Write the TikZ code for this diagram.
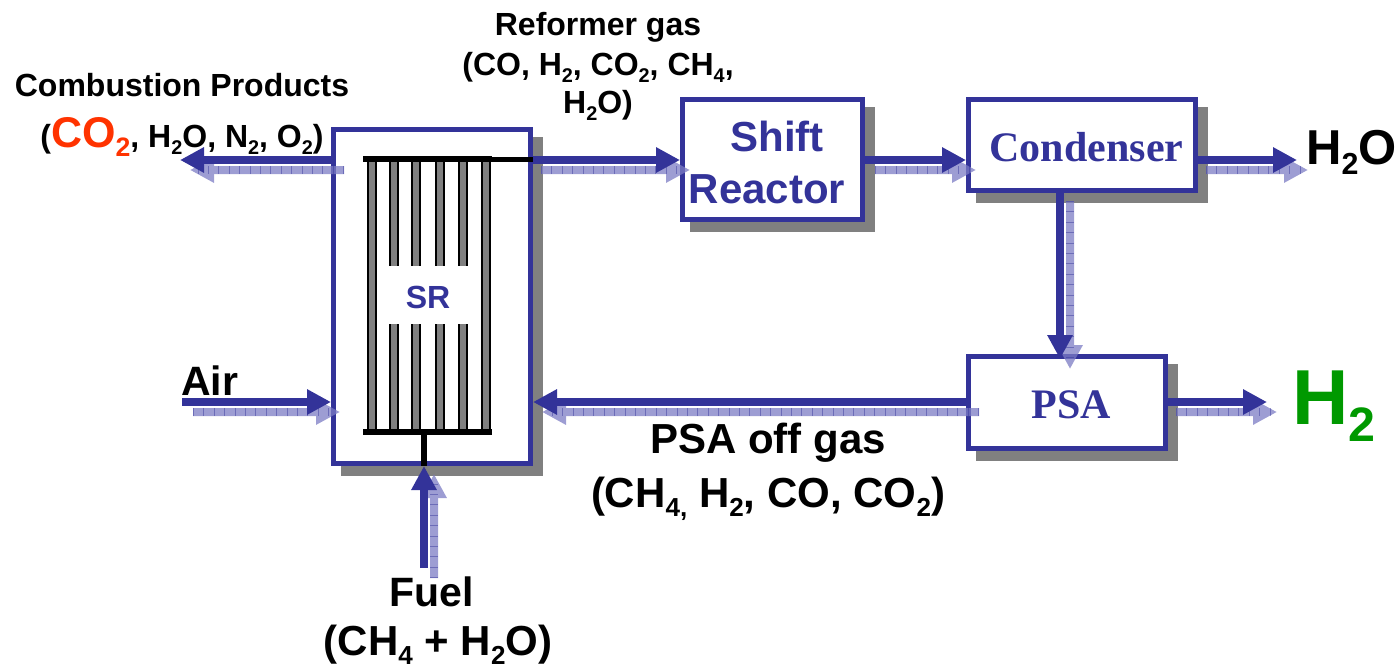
\documentclass[tikz,border=0pt]{standalone}
\usepackage{fontspec}
\setmainfont{Liberation Sans}[BoldFont={Liberation Sans Bold}]
\newfontfamily\serifbold{Liberation Serif Bold}
\usetikzlibrary{arrows.meta,shadows}
\definecolor{flowblue}{HTML}{333399}
\definecolor{ghostblue}{HTML}{7C7CC4}
\definecolor{shadowgray}{HTML}{808080}
\definecolor{hgreen}{HTML}{009900}
\definecolor{cored}{HTML}{FF3300}
\newcommand{\fs}[1]{\fontsize{#1}{#1}\selectfont}
\newcommand{\sbs}[1]{\raisebox{-0.22em}{\scalebox{0.62}{#1}}}
\tikzset{
  box/.style={draw=flowblue,fill=white,line width=5pt,inner sep=0pt,text=flowblue,align=center,
    copy shadow={shadow xshift=10pt,shadow yshift=-10pt,draw=shadowgray,fill=shadowgray}},
  flow/.style={draw=flowblue,line width=7.6pt,-{Triangle[length=24pt,width=24pt,fill=flowblue]}},
  ghost/.style={draw=ghostblue,line width=8pt,-{Triangle[length=24pt,width=24pt,fill=ghostblue]}},
  ghosttick/.style={draw=flowblue,line width=8pt,dash pattern=on 0.8pt off 9.6pt,opacity=.45,shorten >=7pt},
  tube/.style={draw=black,fill=shadowgray,line width=1.6pt},
  bar/.style={draw=black,line width=6pt},
  label/.style={inner sep=0pt,text=black,anchor=base},
}
\begin{document}
\begin{tikzpicture}[x=1pt,y=-1pt]
\useasboundingbox (0,0) rectangle (1400,667);
% boxes
\node[box,minimum width=197pt,minimum height=334pt] (sr) at (432,296.5) {};
\node[box,minimum width=180pt,minimum height=120pt,font=\bfseries\fontsize{42}{52}\selectfont] (shift) at (772.5,159.5) {\hspace{9pt}\rule{0pt}{37pt}Shift\\\hspace{-11pt}Reactor};
\node[box,minimum width=227pt,minimum height=91pt,font=\serifbold\fs{42}] (cond) at (1082,145) {\hspace{9pt}\rule{0pt}{33pt}Condenser};
\node[box,minimum width=197pt,minimum height=92pt,font=\serifbold\fs{42}] (psa) at (1067,402.5) {\hspace{9pt}\rule{0pt}{33pt}PSA};
% reformer tubes
\foreach \x in {372,486} \draw[tube] (\x-4,158) rectangle (\x+4,432);
\foreach \x in {394,416,440,463} {
  \draw[tube,draw=none] (\x-4.5,158) rectangle (\x+4.5,266);
  \draw[tube,draw=none] (\x-4.5,324) rectangle (\x+4.5,432);
  \draw[black,line width=1.3pt] (\x-4,158) -- (\x-4,266) (\x+4,158) -- (\x+4,266) (\x-4,324) -- (\x-4,432) (\x+4,324) -- (\x+4,432);
}
\coordinate (topL) at (363,159);
\coordinate (topR) at (492,159);
\coordinate (botL) at (363,432);
\coordinate (botR) at (492,432);
\coordinate (stem) at (424,432);
\draw[bar] (topL) -- (topR);
\draw[black,line width=5pt] (topR) -- (sr.east |- topR);
\draw[bar] (botL) -- (botR);
\draw[bar] (stem) -- (stem |- sr.south);
\node[text=flowblue,font=\bfseries\fs{32},inner sep=0pt] (srlabel) at (428,297) {SR};
% shadow (ghost) arrows
\coordinate (g1a) at (344,170); \coordinate (g1b) at (190,170);
\coordinate (g2a) at (541,170); \coordinate (g2b) at (690,170);
\coordinate (g3a) at (875,170); \coordinate (g3b) at (976,170);
\coordinate (g4a) at (1206,170); \coordinate (g4b) at (1308,170);
\coordinate (g5a) at (1070,201); \coordinate (g5b) at (1070,369);
\coordinate (g6a) at (1176,412); \coordinate (g6b) at (1277,412);
\coordinate (g7a) at (979,412); \coordinate (g7b) at (542,412);
\coordinate (g8a) at (193,412); \coordinate (g8b) at (340,412);
\coordinate (g9a) at (434,578); \coordinate (g9b) at (434,474);
\begin{scope}[transparency group,opacity=.75]
\draw[ghost] (g1a) -- (g1b); \draw[ghost] (g2a) -- (g2b); \draw[ghost] (g3a) -- (g3b);
\draw[ghost] (g4a) -- (g4b); \draw[ghost] (g5a) -- (g5b); \draw[ghost] (g6a) -- (g6b);
\draw[ghost] (g7a) -- (g7b); \draw[ghost] (g8a) -- (g8b); \draw[ghost] (g9a) -- (g9b);
\end{scope}
\draw[ghosttick] (g1a) -- (g1b); \draw[ghosttick] (g2a) -- (g2b); \draw[ghosttick] (g3a) -- (g3b);
\draw[ghosttick] (g4a) -- (g4b); \draw[ghosttick] (g5a) -- (g5b); \draw[ghosttick] (g6a) -- (g6b);
\draw[ghosttick] (g7a) -- (g7b); \draw[ghosttick] (g8a) -- (g8b); \draw[ghosttick] (g9a) -- (g9b);
% main arrows
\coordinate (yT) at (0,160);
\coordinate (yB) at (0,402);
\coordinate (combEnd) at (180,160);
\coordinate (h2oEnd) at (1297,160);
\coordinate (h2End) at (1267,402);
\coordinate (airStart) at (182,402);
\coordinate (fuelStart) at (424,568);
\coordinate (psaTip) at (1060,359);
\draw[flow] (sr.west |- yT) -- (combEnd);
\draw[flow] (sr.east |- yT) -- (shift.west |- yT);
\draw[flow] (shift.east |- yT) -- (cond.west |- yT);
\draw[flow] (cond.east |- yT) -- (h2oEnd);
\draw[flow] (psaTip |- cond.south) -- (psaTip);
\draw[flow] (psa.east |- yB) -- (h2End);
\draw[flow] (psa.west |- yB) -- (sr.east |- yB);
\draw[flow] (airStart) -- (sr.west |- yB);
\draw[flow] (fuelStart) -- (fuelStart |- sr.south);
% labels
\node[label,font=\bfseries\fs{32}] (combl) at (182,96) {Combustion Products};
\node[label,font=\bfseries\fs{32}] (combf) at (182,147) {(\textcolor{cored}{\fs{43}CO\sbs{2}}, H\sbs{2}O, N\sbs{2}, O\sbs{2})};
\node[label,font=\bfseries\fs{32}] (refl) at (598,35) {Reformer gas};
\node[label,font=\bfseries\fs{32}] (refa) at (598,75) {(CO, H\sbs{2}, CO\sbs{2}, CH\sbs{4},};
\node[label,font=\bfseries\fs{32}] (refb) at (598,113) {H\sbs{2}O)};
\node[label,font=\bfseries\fs{41},anchor=base west] (air) at (181,395) {Air};
\node[label,font=\bfseries\fs{41}] (fuel) at (432,606) {Fuel};
\node[label,font=\bfseries\fs{42}] (fuelf) at (438,655) {(CH\sbs{4} + H\sbs{2}O)};
\node[label,font=\bfseries\fs{42}] (psal) at (768,453) {PSA off gas};
\node[label,font=\bfseries\fs{42}] (psaf) at (768,507) {(CH\sbs{4,} H\sbs{2}, CO, CO\sbs{2})};
\node[label,font=\bfseries\fs{49},anchor=base west] (h2o) at (1306,164) {H\sbs{2}O};
\node[label,font=\bfseries\fs{78},anchor=base west,text=hgreen] (h2) at (1292,424) {H\sbs{2}};
\end{tikzpicture}
\end{document}
